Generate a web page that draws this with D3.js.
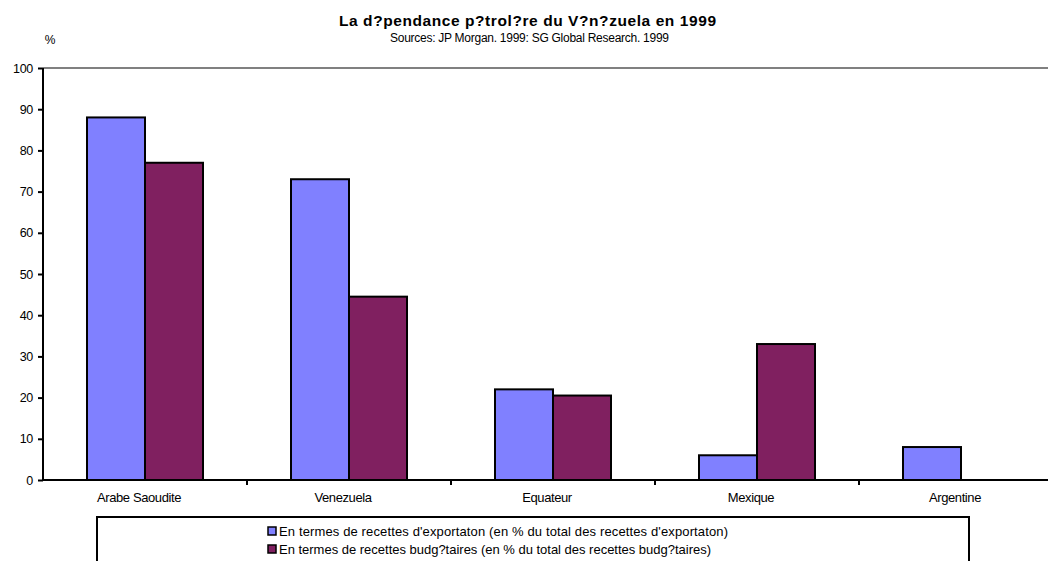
<!DOCTYPE html>
<html><head><meta charset="utf-8">
<script src="https://cdn.jsdelivr.net/npm/d3@7"></script>
<style>body{margin:0;background:#fff;} svg{display:block;font-family:"Liberation Sans",Arial,sans-serif;}</style>
</head><body>
<svg id="c" width="1048" height="561"></svg>
<script>
const categories = ["Arabe Saoudite", "Venezuela", "Equateur", "Mexique", "Argentine"];
const exportShare = [88, 73, 22, 6, 8];
const budgetShare = [77, 44.5, 20.5, 33, 0];
const seriesNames = ["En termes de recettes d'exportaton (en % du total des recettes d'exportaton)",
                     "En termes de recettes budg?taires (en % du total des recettes budg?taires)"];
const yTicks = [0,10,20,30,40,50,60,70,80,90,100];
const colors = ["#8080FF", "#802060"];

const svg = d3.select("#c");
const pLeft = 43, pRight = 1063, pTop = 68, pBottom = 480;
const x = d3.scaleBand().domain(categories).range([pLeft, pRight]);
const inner = d3.scaleBand().domain([0,1]).range([0, 116]);
const y = d3.scaleLinear().domain([0,100]).range([pBottom, pTop]);

// top border line
svg.append("line").attr("x1", pLeft).attr("x2", 1048).attr("y1", y(100)).attr("y2", y(100))
  .attr("stroke", "#808080").attr("stroke-width", 2);

// bars
const series = [exportShare, budgetShare];
series.forEach((vals, si) => {
  svg.append("g").selectAll("rect").data(categories.map((c,i)=>({c, v: vals[i]})).filter(d=>d.v>0))
    .join("rect")
    .attr("x", d => x(d.c) + 44 + inner(si))
    .attr("width", inner.bandwidth())
    .attr("y", d => y(d.v))
    .attr("height", d => y(0) - y(d.v))
    .attr("fill", colors[si]).attr("stroke", "#000").attr("stroke-width", 2);
});

// y axis
const yAxis = svg.append("g").attr("transform", `translate(${pLeft},0)`)
  .call(d3.axisLeft(y).tickValues(yTicks).tickSize(5).tickPadding(5));
yAxis.select(".domain").attr("stroke-width", 2).attr("d", `M0,${y(100)}V${y(0)}`);
yAxis.selectAll(".tick line").attr("stroke-width", 2);
yAxis.selectAll("text").attr("font-size", 12.5).attr("font-family", "Liberation Sans, Arial").attr("letter-spacing", "-0.3px").attr("fill","#000");

// x axis
const xAxis = svg.append("g").attr("transform", `translate(0,${pBottom})`);
xAxis.append("line").attr("x1", pLeft).attr("x2", pRight).attr("stroke", "#000").attr("stroke-width", 2);
xAxis.selectAll("line.t").data(categories.slice(1)).join("line").attr("class","t")
  .attr("x1", d => x(d)).attr("x2", d => x(d)).attr("y1", 0).attr("y2", 5)
  .attr("stroke", "#000").attr("stroke-width", 2);
xAxis.selectAll("text").data(categories).join("text")
  .attr("x", d => x(d) + x.bandwidth()/2 - 6).attr("y", 22)
  .attr("text-anchor", "middle").attr("font-size", 13).attr("letter-spacing", "-0.4px")
  .text(d => d);

// titles
svg.append("text").attr("x", 339).attr("y", 26)
  .attr("font-size", 15.5).attr("font-weight", "bold")
  .attr("textLength", 377).attr("lengthAdjust", "spacing")
  .text("La d?pendance p?trol?re du V?n?zuela en 1999");
svg.append("text").attr("x", 390).attr("y", 42)
  .attr("font-size", 12)
  .attr("textLength", 279).attr("lengthAdjust", "spacing")
  .text("Sources: JP Morgan. 1999: SG Global Research. 1999");
svg.append("text").attr("x", 50).attr("y", 44).attr("text-anchor", "middle")
  .attr("font-size", 12).text("%");

// legend
const legendLens = [449, 432];
svg.append("rect").attr("x", 97).attr("y", 517).attr("width", 872).attr("height", 60)
  .attr("fill", "#fff").attr("stroke", "#000").attr("stroke-width", 2);
seriesNames.forEach((n, i) => {
  const ly = 531 + i*18;
  svg.append("rect").attr("x", 268).attr("y", ly - 4).attr("width", 8).attr("height", 8)
    .attr("fill", colors[i]).attr("stroke", "#000").attr("stroke-width", 1.5);
  svg.append("text").attr("x", 279).attr("y", ly + 4.5).attr("font-size", 13)
    .attr("textLength", legendLens[i]).attr("lengthAdjust", "spacing").text(n);
});
</script>
</body></html>
